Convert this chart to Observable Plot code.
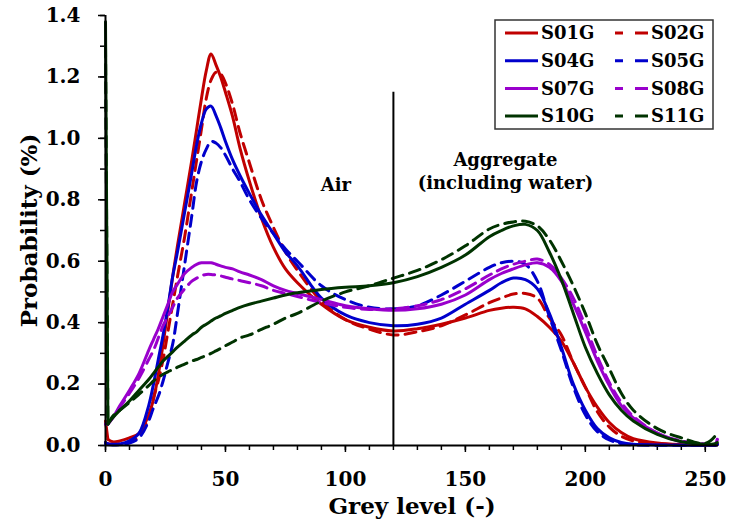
<!DOCTYPE html>
<html><head><meta charset="utf-8">
<script src="https://cdn.jsdelivr.net/npm/d3@7"></script>
<script src="https://cdn.jsdelivr.net/npm/@observablehq/plot@0.6"></script>
<style>
html,body{margin:0;padding:0;background:#fff;}
#chart{width:729px;height:525px;}
</style></head><body><div id="chart"></div>
<script>
const greyLevel = [0,1,3,6,10,14,18,20,22,24,26,28,30,33,36,38,40,42,44,46,48,50,53,56,60,65,70,75,80,90,100,110,120,130,140,150,160,165,170,175,180,185,190,195,200,205,210,215,220,230,240,250,254,255];

const seriesNames = ["S01G","S02G","S04G","S05G","S07G","S08G","S10G","S11G"];
const seriesColors = ["#C00000","#C00000","#0000CC","#0000CC","#9900CC","#9900CC","#003300","#003300"];
const seriesDashed = [false,true,false,true,false,true,false,true];

const S01G = [0.08,0.02,0.012,0.015,0.025, 0.04,0.10,0.15,0.23,0.33, 0.44,0.55,0.65,0.79,0.93, 1.03,1.13,1.22,1.275,1.24, 1.20,1.15,1.07,0.97,0.86, 0.74,0.645,0.575,0.53,0.46, 0.41,0.385,0.373,0.38,0.395, 0.415,0.44,0.447,0.45,0.445, 0.42,0.385,0.34,0.27,0.19, 0.125,0.075,0.042,0.022,0.008, 0.003,0.002,0.002,0.005];
const S02G = [0.01,0.005,0.005,0.006,0.01, 0.03,0.09,0.156,0.21,0.28, 0.37,0.46,0.55,0.68,0.83, 0.93,1.03,1.13,1.19,1.215, 1.21,1.18,1.11,1.02,0.92, 0.80,0.71,0.63,0.57,0.47, 0.41,0.379,0.36,0.37,0.39, 0.425,0.465,0.48,0.493,0.495, 0.48,0.415,0.36,0.27,0.19, 0.11,0.06,0.03,0.015,0.005, 0.002,0.001,0.001,0.003];
const S04G = [0.01,0.005,0.004,0.005,0.015, 0.04,0.13,0.20,0.28,0.36, 0.45,0.55,0.63,0.76,0.89, 0.98,1.05,1.095,1.105,1.075, 1.035,0.99,0.93,0.88,0.82, 0.75,0.69,0.63,0.585,0.48, 0.425,0.40,0.39,0.395,0.415, 0.46,0.505,0.53,0.545,0.54, 0.51,0.43,0.32,0.20,0.115, 0.055,0.025,0.01,0.004,0.002, 0.001,0.001,0.001,0.004];
const S05G = [0.005,0.003,0.002,0.003,0.008, 0.025,0.08,0.123,0.16,0.21, 0.27,0.33,0.43,0.59,0.75, 0.86,0.925,0.965,0.99,0.985, 0.97,0.945,0.90,0.86,0.80, 0.74,0.69,0.64,0.60,0.52, 0.475,0.45,0.445,0.455,0.49, 0.535,0.58,0.595,0.60,0.59, 0.535,0.42,0.31,0.19,0.10, 0.045,0.018,0.006,0.002,0.001, 0.001,0.001,0.001,0.003];
const S07G = [0.07,0.07,0.09,0.13,0.18, 0.235,0.31,0.345,0.38,0.42, 0.46,0.50,0.525,0.56,0.58, 0.59,0.595,0.595,0.595,0.59, 0.585,0.58,0.575,0.565,0.555, 0.54,0.52,0.505,0.495,0.475, 0.455,0.445,0.44,0.445,0.46, 0.49,0.54,0.56,0.575,0.588, 0.595,0.58,0.535,0.46,0.37, 0.275,0.195,0.13,0.09,0.04, 0.012,0.004,0.004,0.02];
const S08G = [0.07,0.07,0.09,0.125,0.17, 0.22,0.28,0.31,0.35,0.39, 0.42,0.45,0.48,0.51,0.535, 0.545,0.553,0.557,0.557,0.555, 0.552,0.548,0.542,0.537,0.53, 0.52,0.505,0.495,0.485,0.465, 0.45,0.443,0.445,0.455,0.475, 0.51,0.555,0.575,0.59,0.60, 0.607,0.59,0.545,0.48,0.39, 0.29,0.205,0.14,0.095,0.04, 0.015,0.005,0.005,0.02];
const S10G = [1.38,0.07,0.09,0.115,0.145, 0.18,0.215,0.235,0.255,0.275, 0.29,0.305,0.32,0.34,0.36, 0.37,0.385,0.395,0.405,0.415, 0.422,0.43,0.44,0.45,0.46, 0.47,0.48,0.49,0.497,0.508, 0.515,0.52,0.53,0.55,0.58, 0.62,0.68,0.70,0.715,0.72, 0.70,0.63,0.54,0.43,0.32, 0.235,0.165,0.115,0.08,0.036, 0.012,0.004,0.006,0.01];
const S11G = [1.30,0.07,0.095,0.115,0.14, 0.167,0.195,0.21,0.222,0.232, 0.24,0.247,0.255,0.265,0.275, 0.28,0.287,0.293,0.30,0.308, 0.316,0.325,0.337,0.35,0.36, 0.378,0.395,0.415,0.43,0.47, 0.50,0.52,0.545,0.57,0.605, 0.65,0.705,0.72,0.728,0.73, 0.715,0.67,0.60,0.52,0.43, 0.33,0.25,0.17,0.115,0.055, 0.025,0.007,0.03,0.047];
const seriesValues = [S01G,S02G,S04G,S05G,S07G,S08G,S10G,S11G];

const xTicks = [0,50,100,150,200,250];
const xMinorTicks = [0,10,20,30,40,50,60,70,80,90,100,110,120,130,140,150,160,170,180,190,200,210,220,230,240,250];
const yTicks = [0,0.2,0.4,0.6,0.8,1.0,1.2,1.4];
const yMinorTicks = [0,0.1,0.2,0.3,0.4,0.5,0.6,0.7,0.8,0.9,1.0,1.1,1.2,1.3,1.4];
const boundaryGrey = 120;
const boundaryTop = 1.15;
const annotationLabels = ["Air","Aggregate","(including water)"];
const annotationX = [96,166.7,166.7];
const annotationY = [0.848,0.93,0.855];

const font = "'DejaVu Serif', serif";
const marks = [];
marks.push(Plot.axisX(xMinorTicks, {tickSize:5, strokeWidth:1.5, label:null, tickFormat: () => ""}));
marks.push(Plot.axisX(xTicks, {tickSize:7, tickPadding:19, fontSize:20, fontWeight:"bold", label:null, strokeWidth:1.5, tickFormat: d => String(d)}));
marks.push(Plot.axisY(yMinorTicks, {tickSize:5, strokeWidth:1.5, label:null, tickFormat: () => ""}));
marks.push(Plot.axisY(yTicks, {tickSize:7, tickPadding:18, fontSize:20, fontWeight:"bold", label:null, strokeWidth:1.5, tickFormat: d => d.toFixed(1)}));

seriesNames.forEach((name, i) => {
  const rows = greyLevel.map((g, j) => ({g, v: seriesValues[i][j]}));
  const opts = {x:"g", y:"v", stroke: seriesColors[i], strokeWidth: 3,
    strokeDasharray: seriesDashed[i] ? "11,7" : null};
  // spike at grey level 0 drawn straight, the rest smoothed
  marks.push(Plot.line(rows.slice(0, 2), {...opts, curve: "linear"}));
  marks.push(Plot.line(rows.slice(1), {...opts, curve: "catmull-rom"}));
});

marks.push(Plot.ruleX([boundaryGrey], {y1:0, y2:boundaryTop, stroke:"#000", strokeWidth:2}));
marks.push(Plot.ruleY([0], {stroke:"#000", strokeWidth:2}));
marks.push(Plot.ruleX([0], {stroke:"#000", strokeWidth:2}));

const ann = annotationLabels.map((t, i) => ({t, x: annotationX[i], y: annotationY[i]}));
marks.push(Plot.text(ann, {x:"x", y:"y", text:"t", fontSize:18, fontWeight:"bold", fill:"#000", textAnchor:"middle", lineAnchor:"middle"}));

marks.push(Plot.text(["Probability (%)"], {frameAnchor:"left", rotate:-90, dx:-76, fontSize:23, fontWeight:"bold", textAnchor:"middle", lineAnchor:"middle", fill:"#000"}));
marks.push(Plot.text(["Grey level (-)"], {frameAnchor:"bottom", dy:61, fontSize:23, fontWeight:"bold", textAnchor:"middle", lineAnchor:"middle", fill:"#000"}));

const chart = Plot.plot({
  width: 729, height: 525,
  marginLeft: 105, marginRight: 11, marginTop: 15, marginBottom: 80,
  x: {domain: [0, 255.5]},
  y: {domain: [0, 1.4]},
  style: {fontFamily: font, fontWeight: "bold", background: "#fff", color: "#000", overflow: "visible"},
  marks
});
document.getElementById("chart").appendChild(chart);

// legend
const svg = d3.select(chart);
const lg = svg.append("g").attr("text-anchor", "start");
lg.append("rect").attr("x", 495).attr("y", 20).attr("width", 218).attr("height", 109)
  .attr("fill", "#fff").attr("stroke", "#333").attr("stroke-width", 1.5);
seriesNames.forEach((name, i) => {
  const col = i % 2, row = Math.floor(i / 2);
  const x0 = col === 0 ? 505 : 615;
  const y0 = 33 + row * 27.7;
  lg.append("line").attr("x1", x0).attr("x2", x0 + 33).attr("y1", y0).attr("y2", y0)
    .attr("stroke", seriesColors[i]).attr("stroke-width", 3)
    .attr("stroke-dasharray", seriesDashed[i] ? "8,12,13" : null);
  lg.append("text").attr("x", x0 + 36).attr("y", y0).attr("dy", "0.35em")
    .attr("text-anchor", "start")
    .attr("font-size", 18).attr("font-weight", "bold").attr("font-family", font)
    .attr("fill", "#000").text(name);
});
</script></body></html>
